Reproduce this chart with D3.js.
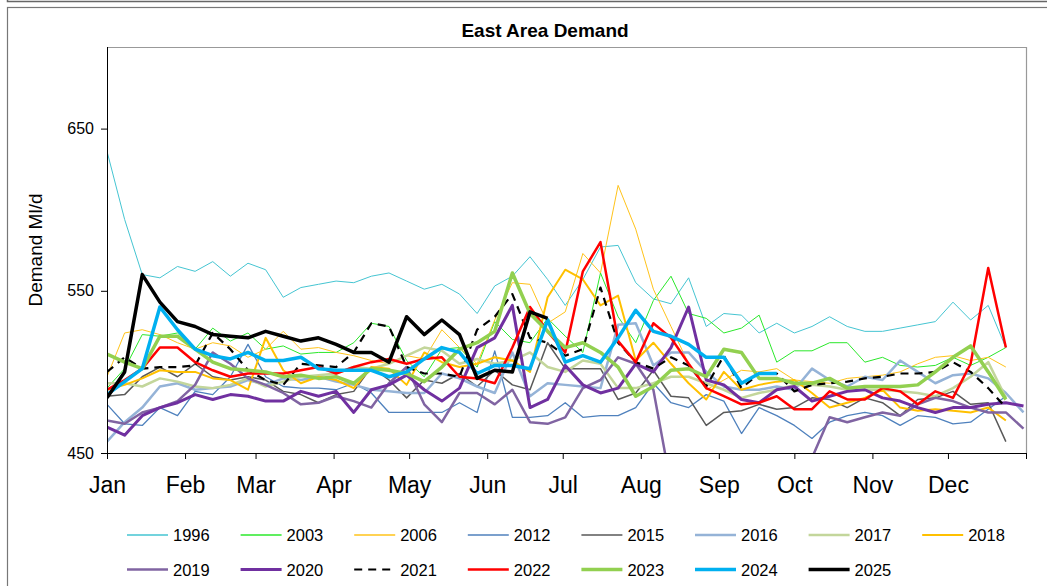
<!DOCTYPE html>
<html>
<head>
<meta charset="utf-8">
<script src="https://cdn.jsdelivr.net/npm/d3@7"></script>
<style>
  body { margin: 0; background: #fff; }
  svg { font-family: "Liberation Sans", Arial, sans-serif; }
</style>
</head>
<body>
<svg id="chart" width="1047" height="586"></svg>
<script>
// Weekly demand (Ml/d), one value per week starting 1 Jan
const d1996 = [636,594,560,558,565,562,568,559,567,563,546,552,554,556,555,559,561,556,551,554,548,536,553,559,571,557,541,557,577,578,555,545,542,558,528,536,535,524,530,524,528,534,528,525,525,527,529,531,543,532,541,515];
const d2003 = [490,502,523,522,524,514,527,519,524,514,516,511,512,512,518,530,528,507,497,514,515,503,531,520,518,533,522,512,561,534,518,544,559,536,533,524,527,535,506,513,513,518,518,506,509,504,503,504,509,504,509,515];
const d2006 = [497,524,526,523,518,514,518,516,509,514,525,514,515,512,510,507,505,510,508,526,515,505,532,555,554,530,537,573,561,615,588,551,528,505,489,495,501,500,502,495,494,493,496,497,498,500,505,509,510,507,509,503];
const d2012 = [480,468,467,478,473,488,486,497,517,497,491,490,490,489,493,487,475,475,475,475,481,475,513,472,472,473,481,472,473,473,478,493,481,478,486,482,462,478,473,467,459,469,473,475,473,467,473,472,468,469,477,485];
const d2015 = [485,486,497,503,497,505,497,495,497,495,488,486,481,486,488,503,495,484,495,493,499,491,501,492,489,518,502,502,502,483,487,501,485,484,467,475,476,480,477,478,484,483,478,484,481,473,483,484,488,480,481,457];
const d2016 = [457,469,478,491,493,489,490,491,495,492,496,495,497,494,492,489,488,487,487,499,496,491,487,512,485,493,492,491,490,529,530,504,512,512,500,491,489,489,491,489,502,495,491,497,495,507,500,493,498,499,496,487,475];
const d2017 = [493,493,491,496,494,491,490,492,496,491,494,497,498,499,503,502,505,510,515,513,505,508,505,507,512,503,500,507,505,490,490,493,497,497,493,489,484,487,489,492,492,491,489,489,489,488,487,485,490,497,506,484];
const d2018 = [489,492,496,501,500,500,496,495,489,521,501,493,497,495,490,503,502,492,512,506,503,505,509,507,500,546,563,557,541,547,507,518,505,493,483,500,489,492,494,495,487,478,481,484,489,478,476,477,476,475,478,470];
const d2019 = [470,468,475,478,482,492,512,505,496,492,487,480,481,485,482,478,493,503,480,469,487,487,480,489,469,468,472,490,495,509,505,489,430,420,418,420,422,420,425,430,447,472,469,472,475,473,480,484,482,478,475,475,465];
const d2020 = [466,461,473,478,481,486,483,486,485,482,482,488,485,488,475,489,492,498,489,482,490,515,521,541,478,483,504,492,487,490,505,500,515,540,495,492,483,481,489,491,482,485,488,489,484,482,478,475,478,478,480,481,479];
const d2021 = [500,509,502,503,503,504,524,514,501,495,492,505,504,503,512,530,528,503,499,499,497,526,534,548,521,518,510,514,552,518,506,502,509,504,491,510,490,499,499,488,492,493,494,496,497,499,499,500,506,500,490,478];
const d2022 = [489,495,502,515,515,506,501,497,499,499,499,501,503,499,503,506,508,505,508,509,497,496,493,515,540,525,512,562,580,519,506,530,521,505,490,485,480,481,485,477,477,488,483,483,490,488,480,488,484,505,564,515];
const d2023 = [511,506,502,522,522,514,506,502,501,500,497,498,496,497,493,502,501,499,494,503,514,518,525,561,536,525,515,518,512,503,485,491,501,502,497,514,512,496,496,493,493,496,490,491,491,491,492,500,509,516,500,483];
const d2024 = [486,494,502,540,526,514,510,508,512,507,507,509,502,501,501,501,497,500,508,515,512,499,504,504,502,532,506,510,506,521,538,525,522,517,509,509,493,499,499];
const d2025 = [484,500,560,543,531,528,523,522,521,525,522,519,521,517,512,512,506,534,523,532,523,496,501,500,537,533];

const years = ['1996','2003','2006','2012','2015','2016','2017','2018','2019','2020','2021','2022','2023','2024','2025'];
const seriesValues = [d1996,d2003,d2006,d2012,d2015,d2016,d2017,d2018,d2019,d2020,d2021,d2022,d2023,d2024,d2025];

const monthLabels = ['Jan','Feb','Mar','Apr','May','Jun','Jul','Aug','Sep','Oct','Nov','Dec'];
const monthStarts = [0,31,59,90,120,151,181,212,243,273,304,334,365];
const yTicks = [450,550,650];

// line styles per year
const styles = {
  '1996': { color: '#45C5D2', width: 1 },
  '2003': { color: '#2BE82B', width: 1 },
  '2006': { color: '#FFC31A', width: 1 },
  '2012': { color: '#4F81BD', width: 1.3 },
  '2015': { color: '#595959', width: 1.5 },
  '2016': { color: '#95B3D7', width: 2.5 },
  '2017': { color: '#C3D69B', width: 2.5 },
  '2018': { color: '#FFC000', width: 2 },
  '2019': { color: '#8064A2', width: 2.5 },
  '2020': { color: '#7030A0', width: 3 },
  '2021': { color: '#000000', width: 2.2, dash: '8,6' },
  '2022': { color: '#FF0000', width: 2.5 },
  '2023': { color: '#92D050', width: 3.5 },
  '2024': { color: '#00B0F0', width: 3.5 },
  '2025': { color: '#000000', width: 3.5 }
};

const svg = d3.select('#chart');
const plot = { left: 107, right: 1026, top: 47, bottom: 453 };

// frames
svg.append('path').attr('d', 'M7.5,0V1.5H1047')
  .attr('fill', 'none').attr('stroke', '#666').attr('stroke-width', 1.5);
svg.append('rect').attr('x', 7.5).attr('y', 7.5).attr('width', 1060).attr('height', 600)
  .attr('fill', 'none').attr('stroke', '#777').attr('stroke-width', 1.2);

const x = d3.scaleLinear().domain([0, 365]).range([plot.left, plot.right]);
const y = d3.scaleLinear().domain([450, 700]).range([plot.bottom, plot.top + 0.5]);

// plot border (top / right)
svg.append('path')
  .attr('d', `M${plot.left},${plot.top + 0.5}H${plot.right + 0.5}V${plot.bottom}`)
  .attr('fill', 'none').attr('stroke', '#999').attr('stroke-width', 1.2);

svg.append('clipPath').attr('id', 'clip')
  .append('rect')
  .attr('x', plot.left).attr('y', plot.top)
  .attr('width', plot.right - plot.left).attr('height', plot.bottom - plot.top);

const line = d3.line()
  .x((d, i) => x(i * 7))
  .y(d => y(d));

const lines = svg.append('g').attr('clip-path', 'url(#clip)');
years.forEach((yr, k) => {
  const s = styles[yr];
  lines.append('path')
    .datum(seriesValues[k])
    .attr('d', line)
    .attr('fill', 'none')
    .attr('stroke', s.color)
    .attr('stroke-width', s.width)
    .attr('stroke-linejoin', 'round')
    .attr('stroke-dasharray', s.dash || null);
});

// axes
const xAxis = d3.axisBottom(x).tickValues(monthStarts).tickSize(6)
  .tickFormat((d, i) => monthLabels[i] || '');
const gx = svg.append('g').attr('transform', `translate(0,${plot.bottom})`).call(xAxis);
gx.select('.domain').attr('d', `M${plot.left},0.5H${plot.right}`).attr('stroke', '#000');
gx.selectAll('.tick line').attr('stroke', '#000');
gx.selectAll('.tick text').attr('font-size', 23).attr('dy', 0).attr('y', 40)
  .attr('fill', '#000').attr('font-family', '"Liberation Sans", Arial, sans-serif');

const yAxis = d3.axisLeft(y).tickValues(yTicks).tickSize(6);
const gy = svg.append('g').attr('transform', `translate(${plot.left},0)`).call(yAxis);
gy.select('.domain').attr('d', `M0.5,${plot.top}V${plot.bottom}`).attr('stroke', '#000');
gy.selectAll('.tick line').attr('stroke', '#000');
gy.selectAll('.tick text').attr('font-size', 16).attr('x', -13)
  .attr('fill', '#000').attr('font-family', '"Liberation Sans", Arial, sans-serif');

// title and axis label
svg.append('text').attr('x', 545).attr('y', 36.5).attr('text-anchor', 'middle')
  .attr('font-size', 19).attr('font-weight', 'bold').text('East Area Demand');
svg.append('text').attr('transform', 'translate(42,250) rotate(-90)')
  .attr('text-anchor', 'middle').attr('font-size', 19).text('Demand Ml/d');

// legend
const legend = svg.append('g');
years.forEach((yr, k) => {
  const s = styles[yr];
  const col = k < 8 ? k : k - 8;
  const row = k < 8 ? 0 : 1;
  const lx = 127 + col * 113.6;
  const ly = 535 + row * 34.5;
  legend.append('line')
    .attr('x1', lx).attr('x2', lx + 41).attr('y1', ly).attr('y2', ly)
    .attr('stroke', s.color).attr('stroke-width', Math.max(s.width, 1.5))
    .attr('stroke-dasharray', s.dash || null);
  legend.append('text').attr('x', lx + 46).attr('y', ly + 6)
    .attr('font-size', 16.5).text(yr);
});
</script>
</body>
</html>
